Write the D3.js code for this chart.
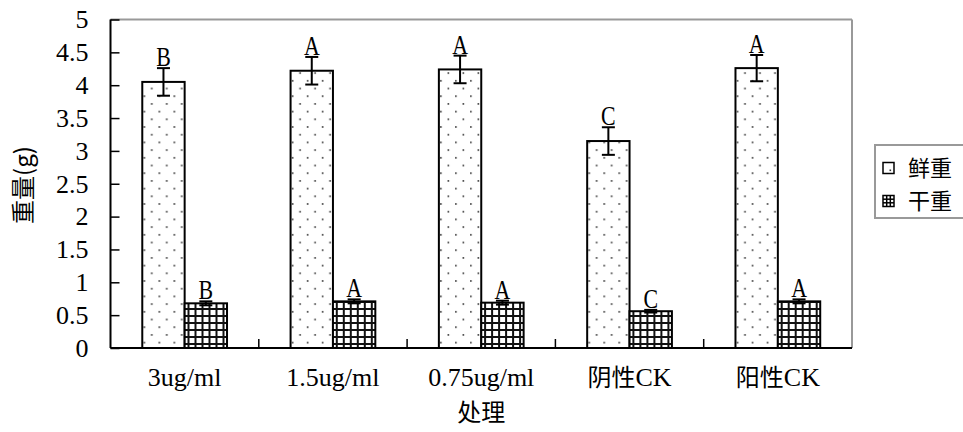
<!DOCTYPE html>
<html>
<head>
<meta charset="utf-8">
<script src="https://cdn.jsdelivr.net/npm/d3@7"></script>
<style>
  html, body { margin: 0; padding: 0; background: #fff; }
  svg { display: block; }
</style>
</head>
<body>
<svg id="chart" width="963" height="432"></svg>
<script>
// Treatments and measured weights (g)
const categories = ["3ug/ml", "1.5ug/ml", "0.75ug/ml", "阴性CK", "阳性CK"];
const seriesNames = ["鲜重", "干重"];
const freshWeight = [4.05, 4.22, 4.24, 3.15, 4.26];
const freshError = [0.21, 0.21, 0.21, 0.21, 0.20];
const dryWeight = [0.68, 0.71, 0.69, 0.56, 0.71];
const dryError = [0.03, 0.03, 0.03, 0.02, 0.03];
const freshLetters = ["B", "A", "A", "C", "A"];
const dryLetters = ["B", "A", "A", "C", "A"];
const yTicks = [0, 0.5, 1, 1.5, 2, 2.5, 3, 3.5, 4, 4.5, 5];
const yTickLabels = ["0", "0.5", "1", "1.5", "2", "2.5", "3", "3.5", "4", "4.5", "5"];
const yTitle = "重量(g)";
const xTitle = "处理";

const latin = "'Liberation Serif', 'DejaVu Serif', serif";
const cjk = "'Noto Sans CJK SC', 'Noto Sans', sans-serif";
const isCJK = s => /[\u4e00-\u9fff]/.test(s);

const svg = d3.select("#chart");
const plot = { left: 110.5, right: 852, top: 19.5, bottom: 348 };

const x0 = d3.scaleBand().domain(categories).range([plot.left, plot.right]).paddingInner(0).paddingOuter(0);
const x1 = d3.scaleBand().domain(seriesNames).range([0, x0.bandwidth()]).paddingInner(0).paddingOuter(0.75);
const y = d3.scaleLinear().domain([0, 5]).range([plot.bottom, plot.top]);

// Fill patterns: dotted for fresh weight, cross-hatched grid for dry weight
const defs = svg.append("defs");
const dots = defs.append("pattern").attr("id", "dots")
  .attr("patternUnits", "userSpaceOnUse").attr("width", 15).attr("height", 15.4);
dots.append("rect").attr("width", 15).attr("height", 15.4).attr("fill", "#fff");
dots.append("rect").attr("x", 3).attr("y", 3).attr("width", 1.6).attr("height", 1.6).attr("fill", "#333");
dots.append("rect").attr("x", 10.5).attr("y", 10.7).attr("width", 1.6).attr("height", 1.6).attr("fill", "#333");

const grid = defs.append("pattern").attr("id", "grid")
  .attr("patternUnits", "userSpaceOnUse").attr("width", 7).attr("height", 7);
grid.append("rect").attr("width", 7).attr("height", 7).attr("fill", "#fff");
grid.append("rect").attr("x", 0).attr("y", 0).attr("width", 2).attr("height", 7).attr("fill", "#111");
grid.append("rect").attr("x", 0).attr("y", 0).attr("width", 7).attr("height", 2).attr("fill", "#111");

// Plot frame: grey top/right, black axes
svg.append("line").attr("x1", plot.left).attr("x2", plot.right).attr("y1", plot.top).attr("y2", plot.top)
  .attr("stroke", "#999").attr("stroke-width", 2);
svg.append("line").attr("x1", plot.right).attr("x2", plot.right).attr("y1", plot.top).attr("y2", plot.bottom)
  .attr("stroke", "#999").attr("stroke-width", 2);

// Y axis with inward ticks
const yAxis = d3.axisLeft(y).tickValues(yTicks).tickSize(0).tickPadding(22)
  .tickFormat((d, i) => yTickLabels[i]);
const gy = svg.append("g").attr("transform", `translate(${plot.left},0)`).call(yAxis);
gy.select(".domain").remove();
gy.selectAll("text").attr("font-family", latin).attr("font-size", 26).attr("fill", "#000");
gy.selectAll(".tick").append("line").attr("x1", 0).attr("x2", 9).attr("stroke", "#000").attr("stroke-width", 1.5);

// X axis category labels
const xAxis = d3.axisBottom(x0).tickSize(0).tickPadding(20);
const gx = svg.append("g").attr("transform", `translate(0,${plot.bottom})`).call(xAxis);
gx.select(".domain").remove();
gx.selectAll("text").attr("font-family", latin).attr("font-size", 26).attr("fill", "#000");
gx.selectAll("text").each(function(d) {
  // Chinese characters in a label take the CJK face
  const t = d3.select(this);
  t.text(null);
  const parts = d.match(/[\u4e00-\u9fff]+|[^\u4e00-\u9fff]+/g);
  parts.forEach(p => {
    t.append("tspan").text(p)
      .attr("font-family", isCJK(p) ? cjk : latin)
      .attr("font-size", isCJK(p) ? 24 : 26);
  });
});

// Category separators on the x axis (inward)
const sepValues = categories.slice(1).map(c => x0(c));
svg.selectAll("line.sep").data(sepValues).join("line").attr("class", "sep")
  .attr("x1", d => d).attr("x2", d => d).attr("y1", plot.bottom).attr("y2", plot.bottom - 9)
  .attr("stroke", "#000").attr("stroke-width", 1.5);

// Bars
const rows = categories.map((c, i) => ({
  c,
  vals: [
    { s: seriesNames[0], v: freshWeight[i], e: freshError[i], L: freshLetters[i], fill: "url(#dots)" },
    { s: seriesNames[1], v: dryWeight[i], e: dryError[i], L: dryLetters[i], fill: "url(#grid)" }
  ]
}));

const groups = svg.selectAll("g.grp").data(rows).join("g").attr("class", "grp")
  .attr("transform", d => `translate(${x0(d.c)},0)`);

groups.selectAll("rect.bar").data(d => d.vals).join("rect").attr("class", "bar")
  .attr("x", d => x1(d.s)).attr("width", x1.bandwidth())
  .attr("y", d => y(d.v)).attr("height", d => y(0) - y(d.v))
  .attr("fill", d => d.fill).attr("stroke", "#000").attr("stroke-width", 2);

// Error bars
const cap = 6.5;
const cx = d => x1(d.s) + x1.bandwidth() / 2;
const eb = groups.selectAll("g.err").data(d => d.vals).join("g").attr("class", "err");
eb.append("line").attr("x1", cx).attr("x2", cx)
  .attr("y1", d => y(d.v + d.e)).attr("y2", d => y(d.v - d.e)).attr("stroke", "#000").attr("stroke-width", 2);
eb.append("line").attr("x1", d => cx(d) - cap).attr("x2", d => cx(d) + cap)
  .attr("y1", d => y(d.v + d.e)).attr("y2", d => y(d.v + d.e)).attr("stroke", "#000").attr("stroke-width", 2);
eb.append("line").attr("x1", d => cx(d) - cap).attr("x2", d => cx(d) + cap)
  .attr("y1", d => y(d.v - d.e)).attr("y2", d => y(d.v - d.e)).attr("stroke", "#000").attr("stroke-width", 2);

// Significance letters above error bars
groups.selectAll("text.sig").data(d => d.vals).join("text").attr("class", "sig")
  .attr("transform", d => `translate(${cx(d)},${y(d.v + d.e) - 2}) scale(0.78,1)`)
  .attr("text-anchor", "middle").attr("font-family", latin).attr("font-size", 28).attr("fill", "#000")
  .text(d => d.L);

// Axis lines drawn last so they sit over the bar edges
svg.append("line").attr("x1", plot.left).attr("x2", plot.left).attr("y1", plot.top).attr("y2", plot.bottom)
  .attr("stroke", "#000").attr("stroke-width", 2);
svg.append("line").attr("x1", plot.left).attr("x2", plot.right).attr("y1", plot.bottom).attr("y2", plot.bottom)
  .attr("stroke", "#000").attr("stroke-width", 2);

// Axis titles
svg.append("text").attr("transform", `translate(32,185) rotate(-90)`)
  .attr("text-anchor", "middle").attr("font-family", cjk).attr("font-size", 24).attr("fill", "#000")
  .text(yTitle);
svg.append("text").attr("x", (plot.left + plot.right) / 2).attr("y", 421)
  .attr("text-anchor", "middle").attr("font-family", cjk).attr("font-size", 24).attr("fill", "#000")
  .text(xTitle);

// Legend
const legend = svg.append("g");
legend.append("rect").attr("x", 875).attr("y", 145).attr("width", 100).attr("height", 73)
  .attr("fill", "#fff").attr("stroke", "#999").attr("stroke-width", 2);
const li = legend.selectAll("g.li").data(seriesNames).join("g").attr("class", "li")
  .attr("transform", (d, i) => `translate(883,${168 + i * 33})`);
li.append("rect").attr("x", 0).attr("y", -5.5).attr("width", 11).attr("height", 11)
  .attr("fill", "#fff").attr("stroke", "#000").attr("stroke-width", 1.5);
li.filter((d, i) => i === 0).append("rect").attr("x", 6.5).attr("y", 1.5).attr("width", 1.6).attr("height", 1.6).attr("fill", "#333");
li.filter((d, i) => i === 1).each(function() {
  const g = d3.select(this);
  [3.7, 7.3].forEach(v => {
    g.append("line").attr("x1", v).attr("x2", v).attr("y1", -5.5).attr("y2", 5.5).attr("stroke", "#000").attr("stroke-width", 1.5);
    g.append("line").attr("x1", 0).attr("x2", 11).attr("y1", v - 5.5).attr("y2", v - 5.5).attr("stroke", "#000").attr("stroke-width", 1.5);
  });
});
li.append("text").attr("x", 25).attr("y", 0).attr("dy", "0.36em")
  .attr("font-family", cjk).attr("font-size", 22).attr("fill", "#000").text(d => d);
</script>
</body>
</html>
